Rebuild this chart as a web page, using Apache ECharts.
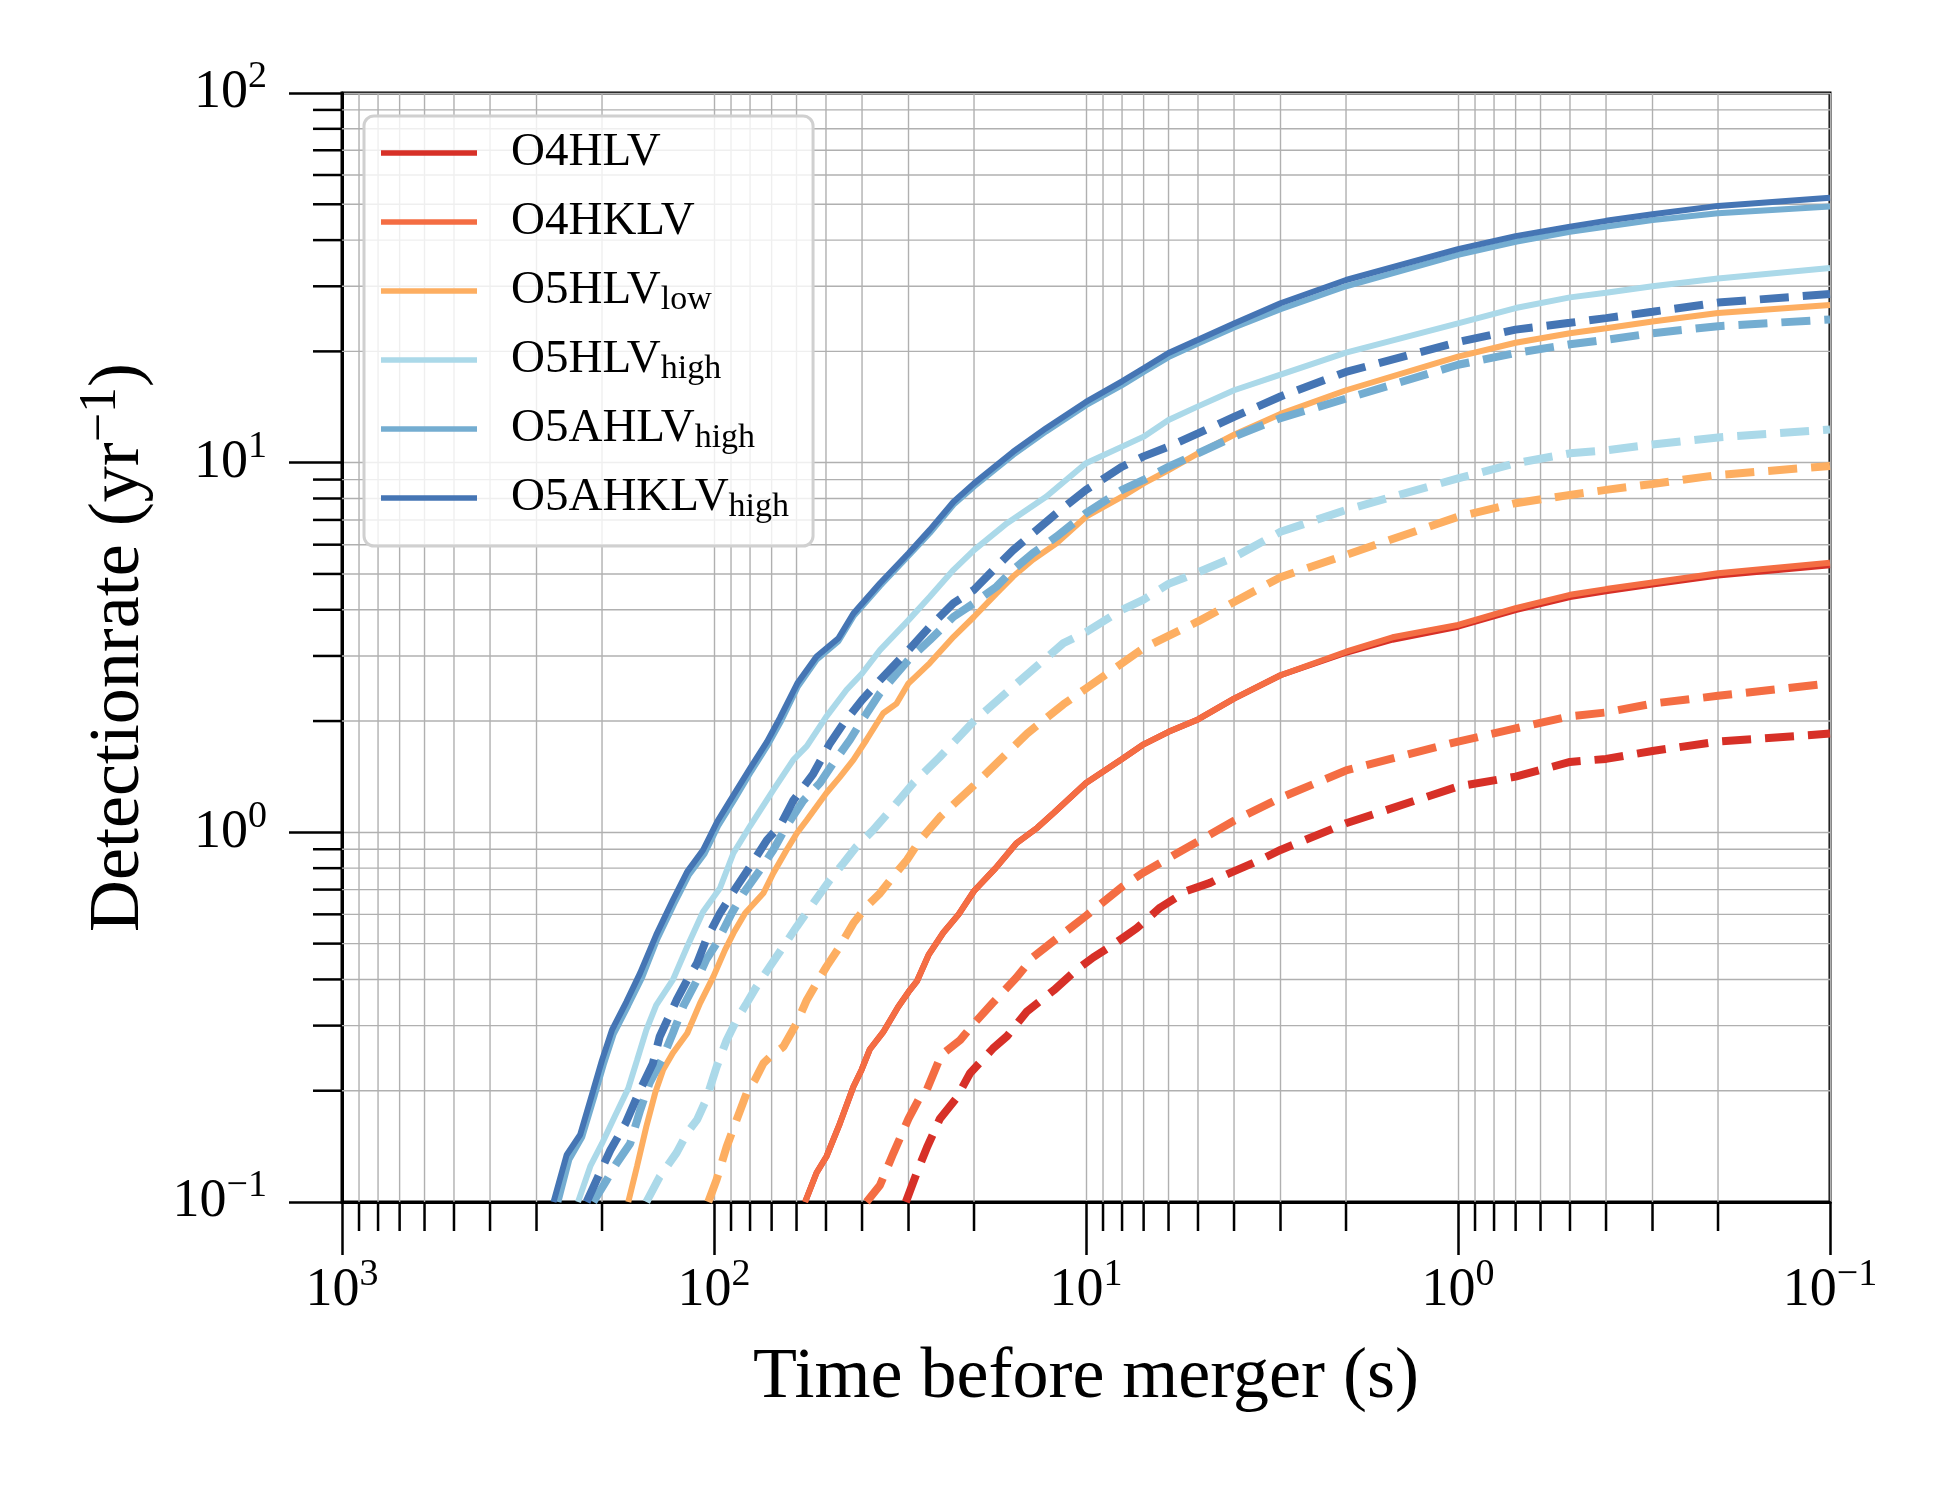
<!DOCTYPE html>
<html>
<head>
<meta charset="utf-8">
<script src="https://cdn.jsdelivr.net/npm/echarts@6.0.0/dist/echarts.min.js"></script>
<style>html,body{margin:0;padding:0;background:#fff;}#chart{width:1956px;height:1487px;}</style>
</head>
<body>
<div id="chart"></div>
<script>
// ---- data: [time before merger (s), detection rate (1/yr)] ----
const o4hlvSolid = [[56.9,0.1],[53,0.12],[49.8,0.133],[45.9,0.163],[42.2,0.205],[40.1,0.228],[38.1,0.259],[35.1,0.288],[32,0.337],[30,0.37],[28.5,0.395],[26.5,0.466],[24.2,0.535],[22,0.6],[20,0.694],[17.5,0.8],[15.4,0.933],[13.5,1.03],[12.2,1.13],[10,1.36],[8,1.58],[7,1.73],[6,1.87],[5,2.02],[4,2.3],[3,2.66],[2,3.06],[1.5,3.32],[1,3.6],[0.7,3.99],[0.5,4.33],[0.4,4.49],[0.3,4.68],[0.2,4.95],[0.1,5.28]];
const o4hlvDashed = [[30.5,0.1],[28.5,0.12],[26.8,0.14],[24.7,0.168],[22.3,0.191],[20.5,0.223],[17.8,0.26],[16.3,0.281],[14.4,0.328],[12.2,0.374],[10.6,0.425],[9.56,0.459],[8.44,0.497],[7.31,0.55],[6.32,0.626],[5.36,0.694],[4.64,0.73],[4.19,0.769],[3.41,0.841],[3,0.896],[2,1.058],[1,1.33],[0.7,1.415],[0.5,1.55],[0.4,1.58],[0.3,1.66],[0.2,1.76],[0.1,1.85]];
const o4hklvSolid = [[56.9,0.1],[53,0.12],[49.8,0.133],[45.9,0.163],[42.2,0.205],[40.1,0.228],[38.1,0.259],[35.1,0.288],[32,0.337],[30,0.37],[28.5,0.395],[26.5,0.466],[24.2,0.535],[22,0.6],[20,0.694],[17.5,0.8],[15.4,0.933],[13.5,1.03],[12.2,1.13],[10,1.36],[8,1.58],[7,1.73],[6,1.87],[5,2.02],[4,2.3],[3,2.66],[2,3.08],[1.5,3.37],[1,3.64],[0.7,4.04],[0.5,4.39],[0.4,4.55],[0.3,4.74],[0.2,5.02],[0.1,5.36]];
const o4hklvDashed = [[38.9,0.1],[35.8,0.111],[33,0.135],[30,0.168],[27.9,0.193],[26.8,0.201],[24.5,0.25],[21.8,0.274],[20,0.304],[17.8,0.346],[15.4,0.404],[13.9,0.459],[12.2,0.509],[10,0.594],[8,0.712],[7,0.779],[5,0.945],[4,1.075],[3,1.24],[2,1.47],[1,1.76],[0.7,1.91],[0.5,2.06],[0.4,2.11],[0.3,2.23],[0.2,2.34],[0.1,2.53]];
const o5hlvLowSolid = [[170,0.1],[161,0.125],[152,0.16],[144,0.197],[137,0.228],[129,0.253],[118,0.286],[109,0.345],[100.4,0.407],[93.4,0.481],[88.7,0.533],[82.5,0.604],[73.7,0.684],[69.3,0.775],[63.8,0.896],[59.9,0.994],[56.3,1.08],[49.8,1.28],[45.9,1.41],[42.2,1.57],[38.9,1.78],[35.1,2.1],[32.3,2.23],[30,2.53],[26.3,2.87],[22.7,3.38],[20,3.83],[17.4,4.43],[15.7,4.92],[13.9,5.46],[12,6.05],[10,7.14],[8,8.09],[7,8.79],[6,9.55],[5,10.6],[4,11.9],[3,13.55],[2,15.7],[1,19.35],[0.7,21.1],[0.5,22.4],[0.4,23.1],[0.3,24.1],[0.2,25.4],[0.1,26.7]];
const o5hlvLowDashed = [[103.6,0.1],[98.4,0.115],[92.5,0.141],[86.9,0.167],[81.7,0.197],[77.6,0.214],[73.7,0.237],[70.7,0.247],[65.1,0.263],[59.9,0.305],[56.3,0.352],[53,0.391],[49.8,0.434],[45.9,0.491],[42.2,0.568],[38.9,0.63],[35.8,0.684],[33,0.759],[30.3,0.842],[27.9,0.954],[24.7,1.1],[20,1.34],[14.4,1.85],[11.5,2.22],[10,2.45],[7,3.15],[5,3.72],[4,4.2],[3,4.9],[2,5.63],[1,7.14],[0.7,7.77],[0.5,8.18],[0.4,8.44],[0.3,8.76],[0.2,9.26],[0.1,9.8]];
const o5hlvHighSolid = [[232,0.1],[215,0.125],[200,0.144],[185,0.17],[170,0.203],[161,0.242],[152,0.292],[143,0.341],[129,0.399],[118,0.491],[107,0.61],[96.4,0.706],[88.7,0.878],[80,1.04],[69.3,1.3],[61.2,1.57],[56.3,1.71],[50,2.05],[44,2.43],[40,2.69],[35.8,3.11],[30,3.75],[26.3,4.34],[22.7,5.13],[20,5.8],[16.3,6.86],[12.8,8.09],[10,9.96],[8,11.05],[7,11.76],[6,13.05],[5,14.2],[4,15.7],[3,17.3],[2,19.85],[1,23.8],[0.7,26.2],[0.5,28.0],[0.4,28.8],[0.3,30.0],[0.2,31.5],[0.1,33.6]];
const o5hlvHighDashed = [[152,0.1],[140,0.117],[126,0.136],[118,0.154],[111,0.167],[105,0.189],[98.4,0.232],[92.5,0.274],[86.9,0.311],[81.7,0.345],[76.8,0.383],[70.7,0.434],[65.1,0.491],[59.9,0.556],[54.1,0.643],[48.8,0.743],[44.9,0.825],[41.4,0.915],[37.3,1.015],[33,1.17],[29.1,1.36],[24.7,1.6],[20,2.0],[15.4,2.52],[11.5,3.25],[10,3.48],[8,4.0],[7,4.26],[6,4.7],[5,5.05],[4,5.55],[3,6.5],[2,7.45],[1,9.07],[0.7,9.96],[0.5,10.6],[0.4,10.8],[0.3,11.2],[0.2,11.7],[0.1,12.3]];
const o5ahlvHighSolid = [[262,0.1],[245,0.13],[226,0.15],[209,0.195],[198,0.235],[186,0.285],[170,0.34],[156,0.405],[142,0.515],[128,0.64],[117,0.765],[106,0.875],[97.5,1.04],[88,1.23],[79.5,1.46],[71.5,1.73],[66,2.0],[59.5,2.48],[53,2.93],[46.3,3.29],[42.2,3.84],[35.8,4.64],[30,5.6],[26.3,6.45],[22.7,7.7],[20,8.62],[15.7,10.5],[12.8,12.15],[10,14.3],[8,16.2],[7,17.6],[6,19.3],[5,21.0],[4,23.2],[3,26.0],[2,30.0],[1,36.5],[0.7,39.6],[0.5,42.1],[0.3,45.3],[0.2,47.3],[0.1,49.3]];
const o5ahlvHighDashed = [[211,0.1],[194,0.115],[183,0.127],[168,0.144],[158,0.177],[149,0.21],[137,0.247],[129,0.286],[121,0.338],[111,0.399],[105,0.452],[98.4,0.501],[89.6,0.604],[83.4,0.684],[75.2,0.791],[69.3,0.896],[63.8,1.04],[57.5,1.22],[51.9,1.36],[47.8,1.54],[43.1,1.78],[40.5,1.97],[35.8,2.38],[30,2.93],[26.3,3.31],[22.7,3.83],[20,4.17],[17.4,4.62],[15.7,5.13],[13.9,5.69],[12,6.31],[10,7.3],[8,8.44],[7,8.98],[6,9.75],[5,10.6],[4,11.76],[3,13.2],[2,14.9],[1,18.4],[0.7,19.8],[0.5,20.9],[0.4,21.5],[0.3,22.4],[0.2,23.4],[0.1,24.4]];
const o5ahklvHighSolid = [[270,0.1],[249,0.134],[229,0.152],[211,0.201],[200,0.242],[188,0.292],[172,0.348],[158,0.416],[143,0.528],[129,0.656],[118,0.783],[107,0.896],[98,1.07],[88.7,1.26],[80,1.49],[72,1.76],[66.5,2.04],[59.7,2.53],[53,2.99],[46.3,3.35],[42.2,3.91],[35.8,4.72],[30,5.69],[26.3,6.58],[22.7,7.84],[20,8.79],[15.7,10.7],[12.8,12.4],[10,14.6],[8,16.6],[7,18.0],[6,19.8],[5,21.5],[4,23.8],[3,27.0],[2,31.2],[1,37.8],[0.7,41.0],[0.5,43.5],[0.4,45.1],[0.3,47.0],[0.2,49.5],[0.1,52.1]];
const o5ahklvHighDashed = [[220,0.1],[205,0.117],[190,0.138],[173,0.163],[158,0.201],[146,0.237],[140,0.28],[126,0.352],[118,0.399],[111,0.443],[105,0.512],[96.4,0.604],[86.9,0.713],[80,0.808],[72,0.954],[66.5,1.04],[61.2,1.22],[54.1,1.44],[48.8,1.74],[44.9,1.97],[40,2.28],[35.8,2.58],[30,3.11],[26.3,3.6],[22.7,4.17],[20,4.53],[17.4,5.23],[15.7,5.8],[13.9,6.44],[12,7.3],[10,8.44],[8,9.75],[7,10.4],[6,11.05],[5,12.0],[4,13.3],[3,15.1],[2,17.6],[1,21.2],[0.7,22.9],[0.5,23.9],[0.4,24.6],[0.3,25.6],[0.2,27.1],[0.1,28.6]];

const seriesNames = ['O4HLV','O4HKLV','O5HLV_low','O5HLV_high','O5AHLV_high','O5AHKLV_high'];
const seriesColors = ['#d73027','#f46d43','#fdae61','#abd9e9','#74add1','#4575b4'];
const solidData = [o4hlvSolid,o4hklvSolid,o5hlvLowSolid,o5hlvHighSolid,o5ahlvHighSolid,o5ahklvHighSolid];
const dashedData = [o4hlvDashed,o4hklvDashed,o5hlvLowDashed,o5hlvHighDashed,o5ahlvHighDashed,o5ahklvHighDashed];

// axis ticks
const xMinorTicks = [900,800,700,600,500,400,300,200,90,80,70,60,50,40,30,20,9,8,7,6,5,4,3,2,0.9,0.8,0.7,0.6,0.5,0.4,0.3,0.2];
const yMinorTicks = [90,80,70,60,50,40,30,20,9,8,7,6,5,4,3,2,0.9,0.8,0.7,0.6,0.5,0.4,0.3,0.2];

const FONT = 'Liberation Serif';
const GRID_COLOR = '#b0b0b0';

function powLabel(v) {
  const e = Math.round(Math.log10(v));
  const s = e < 0 ? '\u2212' + (-e) : String(e);
  return '{b|10}{s|' + s + '}';
}
const tickRich = {
  b: {fontFamily: FONT, fontSize: 54, lineHeight: 56, color: '#000'},
  s: {fontFamily: FONT, fontSize: 38, lineHeight: 40, padding: [0,0,31,0], color: '#000'}
};
function legendLabel(name) {
  const parts = name.split('_');
  let str = '{g| }{m|' + parts[0] + '}';
  if (parts[1]) str += '{sub|' + parts[1] + '}';
  return str;
}

const chart = echarts.init(document.getElementById('chart'), null, {renderer: 'canvas'});

const series = [];
// minor grid lines and ticks
series.push({
  type: 'custom', name: 'xminor', coordinateSystem: 'cartesian2d', silent: true, clip: false, z: 1,
  data: xMinorTicks.map(v => [v, 1]),
  renderItem: function (params, api) {
    const p = api.coord([api.value(0), 1]);
    const cs = params.coordSys;
    const yb = cs.y + cs.height;
    return {type: 'group', children: [
      {type: 'line', shape: {x1: p[0], y1: cs.y, x2: p[0], y2: yb}, style: {stroke: GRID_COLOR, lineWidth: 1.4}},
      {type: 'line', shape: {x1: p[0], y1: yb, x2: p[0], y2: yb + 29}, style: {stroke: '#000', lineWidth: 2.5}}
    ]};
  }
});
series.push({
  type: 'custom', name: 'yminor', coordinateSystem: 'cartesian2d', silent: true, clip: false, z: 1,
  data: yMinorTicks.map(v => [1, v]),
  renderItem: function (params, api) {
    const p = api.coord([1, api.value(1)]);
    const cs = params.coordSys;
    return {type: 'group', children: [
      {type: 'line', shape: {x1: cs.x, y1: p[1], x2: cs.x + cs.width, y2: p[1]}, style: {stroke: GRID_COLOR, lineWidth: 1.4}},
      {type: 'line', shape: {x1: cs.x - 29, y1: p[1], x2: cs.x, y2: p[1]}, style: {stroke: '#000', lineWidth: 2.5}}
    ]};
  }
});
for (let i = 0; i < seriesNames.length; i++) {
  series.push({
    type: 'line', name: seriesNames[i], data: solidData[i], symbol: 'none', showSymbol: false, z: 3,
    color: seriesColors[i], emphasis: {disabled: true},
    lineStyle: {color: seriesColors[i], width: 6, type: 'solid', cap: 'butt'}
  });
  series.push({
    type: 'line', name: seriesNames[i] + ' dashed', data: dashedData[i], symbol: 'none', showSymbol: false, z: 3,
    color: seriesColors[i], emphasis: {disabled: true},
    lineStyle: {color: seriesColors[i], width: 8, type: [29, 14], cap: 'butt'}
  });
}

const option = {
  animation: false,
  backgroundColor: '#ffffff',
  grid: {left: 342, right: 126, top: 93, bottom: 285, show: true, borderColor: '#000', borderWidth: 3, backgroundColor: 'transparent', outerBoundsMode: 'none', containLabel: false},
  legend: {
    data: seriesNames, orient: 'vertical', left: 364, top: 116,
    icon: 'rect', itemWidth: 96, itemHeight: 5.5, itemGap: 9,
    padding: [7, 24, 18, 17],
    backgroundColor: 'rgba(255,255,255,0.8)', borderColor: '#d0d0d0', borderWidth: 3, borderRadius: 10,
    formatter: legendLabel,
    textStyle: {
      fontFamily: FONT, fontSize: 47, lineHeight: 60, color: '#000',
      rich: {
        g: {width: 29, fontSize: 47, lineHeight: 60},
        m: {fontFamily: FONT, fontSize: 47, lineHeight: 60, color: '#000'},
        sub: {fontFamily: FONT, fontSize: 34, lineHeight: 60, padding: [18, 0, 0, 0], color: '#000'}
      }
    }
  },
  xAxis: {
    type: 'log', logBase: 10, min: 0.1, max: 1000, inverse: true,
    name: 'Time before merger (s)', nameLocation: 'middle', nameGap: 140,
    nameTextStyle: {fontFamily: FONT, fontSize: 72, color: '#000'},
    axisLine: {show: true, lineStyle: {color: '#000', width: 3}},
    axisTick: {show: true, inside: false, length: 53, lineStyle: {color: '#000', width: 2.5}},
    axisLabel: {show: true, margin: 61, formatter: powLabel, rich: tickRich, showMinLabel: true, showMaxLabel: true},
    splitLine: {show: true, lineStyle: {color: GRID_COLOR, width: 1.4}},
    minorTick: {show: false}, minorSplitLine: {show: false}
  },
  yAxis: {
    type: 'log', logBase: 10, min: 0.1, max: 100,
    name: '{t|Detectionrate (yr}{s|\u22121}{t|)}', nameLocation: 'middle', nameGap: 185,
    nameTextStyle: {
      fontFamily: FONT, fontSize: 72, color: '#000',
      rich: {
        t: {fontFamily: FONT, fontSize: 72, lineHeight: 76, color: '#000'},
        s: {fontFamily: FONT, fontSize: 52, lineHeight: 54, padding: [0, 0, 34, 0], color: '#000'}
      }
    },
    axisLine: {show: true, lineStyle: {color: '#000', width: 3}},
    axisTick: {show: true, inside: false, length: 53, lineStyle: {color: '#000', width: 2.5}},
    axisLabel: {show: true, margin: 75, formatter: powLabel, rich: tickRich, showMinLabel: true, showMaxLabel: true},
    splitLine: {show: true, lineStyle: {color: GRID_COLOR, width: 1.4}},
    minorTick: {show: false}, minorSplitLine: {show: false}
  },
  series: series
};
chart.setOption(option);
</script>
</body>
</html>
